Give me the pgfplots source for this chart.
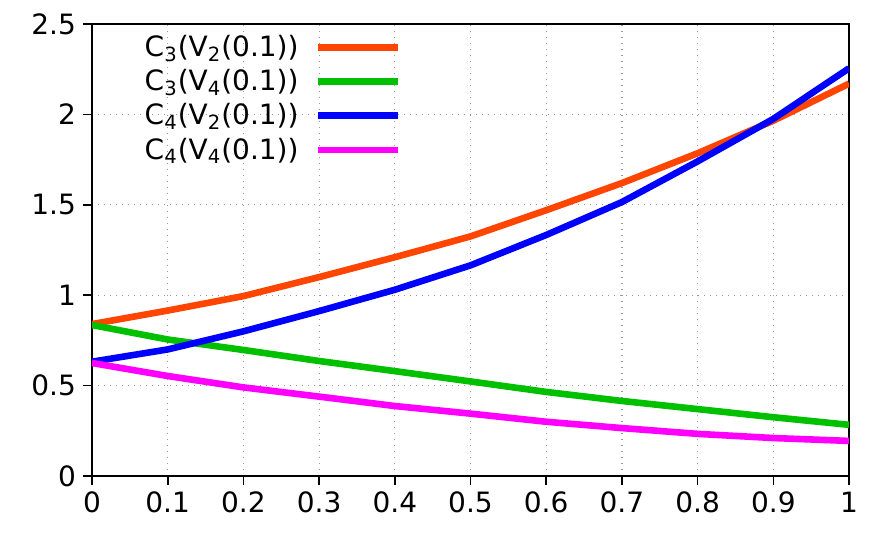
\documentclass[border=0pt]{standalone}
\usepackage{fontspec}
\setmainfont{DejaVu Sans}
\usepackage{pgfplots}
\pgfplotsset{compat=1.18}
\definecolor{cOrange}{RGB}{255,69,0}
\definecolor{cGreen}{RGB}{0,192,0}
\definecolor{cBlue}{RGB}{0,0,255}
\definecolor{cMagenta}{RGB}{255,0,255}

\begin{document}
\begin{tikzpicture}
\begin{axis}[
  name=ax,
  scale only axis,
  width=378.5pt, height=226pt,
  xmin=0, xmax=1, ymin=0, ymax=2.5,
  xtick={0,0.1,0.2,0.3,0.4,0.5,0.6,0.7,0.8,0.9,1},
  ytick={0,0.5,1,1.5,2,2.5},
  /pgf/number format/assume math mode=true,
  tick label style={font=\fontsize{14}{16}\selectfont},
  tick align=outside, xtick pos=bottom, ytick pos=left,
  major tick length=4.5pt,
  tick style={black, line width=0.8pt},
  axis line style={line width=0.9pt},
  grid=major,
  grid style={gray!80, line width=0.6pt, dash pattern=on 0.5pt off 2.5pt},
  legend plot pos=right,
  legend cell align=right,
  legend image code/.code={\draw[#1] (0pt,0pt) -- (40pt,0pt);},
  legend style={at={(0.409,0.985)}, anchor=north east, draw=none, fill=none,
    inner sep=0pt, row sep=1pt, column sep=6pt,
    font=\fontsize{14}{16}\selectfont,
    nodes={inner sep=2pt}},
  every axis plot/.append style={line width=3.3pt},
]
\addplot[cOrange] coordinates {
  (0,0.84) (0.1,0.915) (0.2,0.995) (0.3,1.10) (0.4,1.21) (0.5,1.325)
  (0.6,1.47) (0.7,1.62) (0.8,1.785) (0.9,1.965) (1,2.17)};
\addlegendentry{C\textsubscript{3}(V\textsubscript{2}(0.1))}
\addplot[cGreen] coordinates {
  (0,0.835) (0.1,0.755) (0.2,0.697) (0.3,0.636) (0.4,0.58) (0.5,0.523)
  (0.6,0.465) (0.7,0.415) (0.8,0.37) (0.9,0.325) (1,0.283)};
\addlegendentry{C\textsubscript{3}(V\textsubscript{4}(0.1))}
\addplot[cBlue] coordinates {
  (0,0.632) (0.1,0.70) (0.2,0.80) (0.3,0.912) (0.4,1.03) (0.5,1.165)
  (0.6,1.333) (0.7,1.515) (0.8,1.74) (0.9,1.975) (1,2.255)};
\addlegendentry{C\textsubscript{4}(V\textsubscript{2}(0.1))}
\addplot[cMagenta] coordinates {
  (0,0.625) (0.1,0.553) (0.2,0.49) (0.3,0.439) (0.4,0.387) (0.5,0.345)
  (0.6,0.30) (0.7,0.265) (0.8,0.233) (0.9,0.21) (1,0.194)};
\addlegendentry{C\textsubscript{4}(V\textsubscript{4}(0.1))}
\end{axis}
\pgfresetboundingbox
\path ([xshift=-46pt,yshift=-28.5pt]ax.south west) rectangle ([xshift=19.5pt,yshift=12pt]ax.north east);
\end{tikzpicture}
\end{document}
